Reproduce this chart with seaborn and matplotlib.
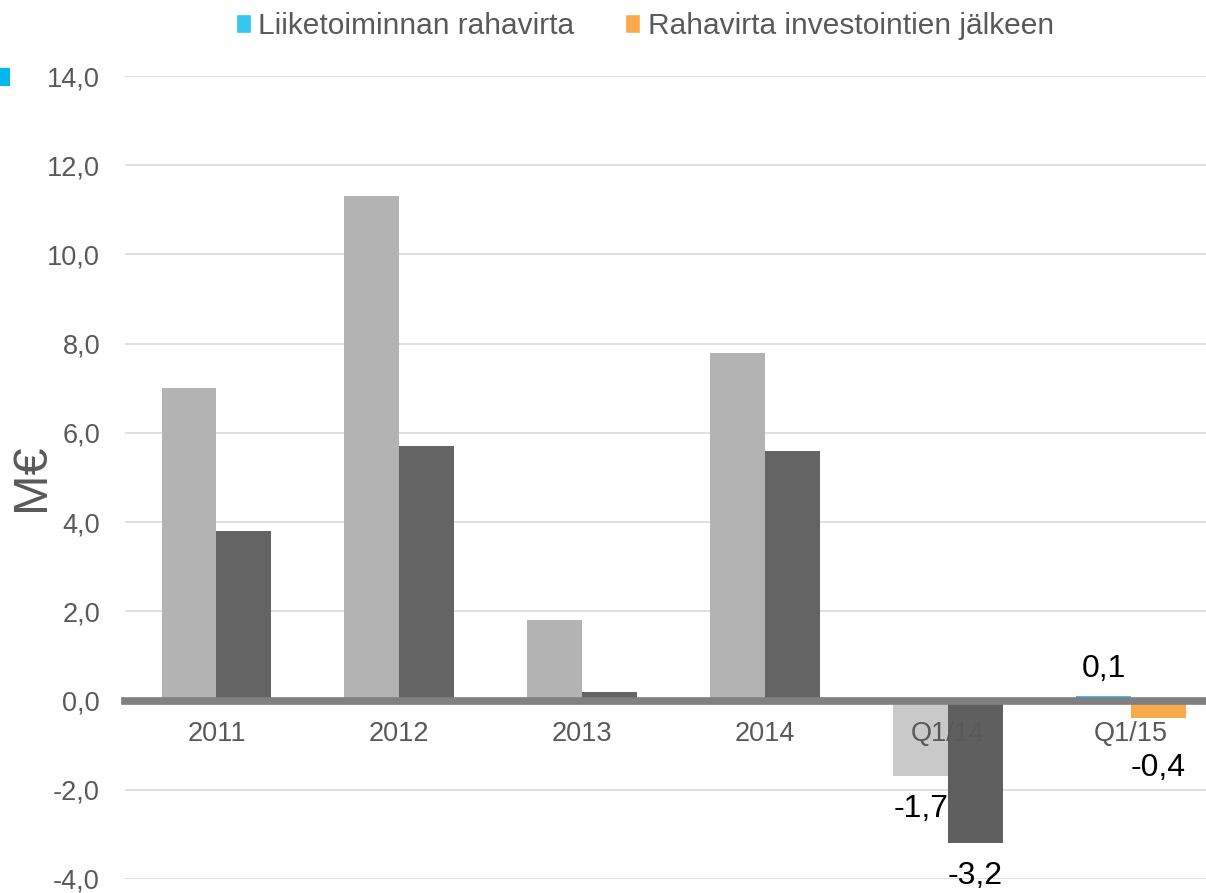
import matplotlib
matplotlib.use("Agg")
import matplotlib.pyplot as plt
from matplotlib.patches import Patch, Rectangle
from matplotlib.ticker import FuncFormatter, MultipleLocator
import pandas as pd
import seaborn as sns

# Chart data (M€)
categories = ["2011", "2012", "2013", "2014", "Q1/14", "Q1/15"]
liiketoiminta = [7.0, 11.3, 1.8, 7.8, -1.7, 0.1]
investointien_jalkeen = [3.8, 5.7, 0.2, 5.6, -3.2, -0.4]
series_names = ["Liiketoiminnan rahavirta", "Rahavirta investointien jälkeen"]
labelled = ["Q1/14", "Q1/15"]
y_ticks = [-4, -2, 0, 2, 4, 6, 8, 10, 12, 14]

df = pd.DataFrame({
    "kausi": categories * 2,
    "sarja": [series_names[0]] * len(categories) + [series_names[1]] * len(categories),
    "arvo": liiketoiminta + investointien_jalkeen,
})

sns.set_theme(style="white")
plt.rcParams["font.family"] = ["Liberation Sans", "DejaVu Sans"]

fig = plt.figure(figsize=(12.06, 8.93), dpi=100)
ax = fig.add_axes([125 / 1206, 1 - 879 / 893, 1081 / 1206, (879 - 76) / 893])

sns.barplot(data=df, x="kausi", y="arvo", hue="sarja", hue_order=series_names,
            palette=["#b3b3b3", "#646464"], width=0.6, errorbar=None,
            legend=False, ax=ax, saturation=1)

# recolour the quarterly bars
light_c, dark_c = ax.containers[0], ax.containers[1]
light_c[4].set_facecolor("#c9c9c9")
dark_c[4].set_facecolor("#5f5f5f")
light_c[5].set_facecolor("#35c6ee")
dark_c[5].set_facecolor("#f9aa4b")
for c in ax.containers:
    for p in c:
        p.set_edgecolor("none")

# value labels on quarterly bars only
def fmt(v):
    return f"{v:.1f}".replace(".", ",")

for cont, vals in zip(ax.containers, [liiketoiminta, investointien_jalkeen]):
    for i, cat in enumerate(categories):
        if cat not in labelled:
            continue
        p = cont[i]
        v = vals[i]
        xc = p.get_x() + p.get_width() / 2
        if v >= 0:
            off, va = 9, "bottom"
        else:
            off, va = (-25 if cat == "Q1/15" else -13), "top"
        ax.annotate(fmt(v), (xc, v), xytext=(0, off), textcoords="offset points",
                    ha="center", va=va, fontsize=23, color="black", zorder=5)

ax.set_ylim(-4, 14)
ax.set_xlim(-0.5, 5.41)
ax.yaxis.set_major_locator(MultipleLocator(2))
ax.yaxis.set_major_formatter(FuncFormatter(lambda v, _: fmt(v)))
ax.grid(False)
for t in y_ticks:
    if t != 0:
        ax.axhline(t, color="#d9d9d9", linewidth=1.2, zorder=0.2)
ax.set_axisbelow(False)

for s in ["top", "right", "left"]:
    ax.spines[s].set_visible(False)
ax.spines["bottom"].set_position(("data", 0))
ax.spines["bottom"].set_color("#808080")
ax.spines["bottom"].set_linewidth(5.5)
ax.spines["bottom"].set_zorder(4)

ax.tick_params(axis="x", length=0, pad=15, labelsize=19.5, labelcolor="#595959")
ax.tick_params(axis="y", length=0, pad=18, labelsize=19.5, labelcolor="#595959")
ax.set_xlabel("")
ax.set_ylabel("M€", fontsize=35, color="#595959")
ax.yaxis.set_label_coords(-0.066, 0.5)

handles = [Patch(facecolor="#35c6ee"), Patch(facecolor="#f9aa4b")]
fig.legend(handles, series_names, loc="center", bbox_to_anchor=(645 / 1206, 1 - 26 / 893),
           ncol=2, frameon=False, fontsize=21.5, labelcolor="#595959",
           handlelength=0.5, handleheight=0.6, handletextpad=0.25, columnspacing=1.7)

# small marker at the top-left edge
fig.patches.append(Rectangle((0, 1 - 86 / 893), 10 / 1206, 18 / 893,
                             transform=fig.transFigure, facecolor="#00b8ec",
                             edgecolor="none"))

fig.savefig("out.png", dpi=100)
